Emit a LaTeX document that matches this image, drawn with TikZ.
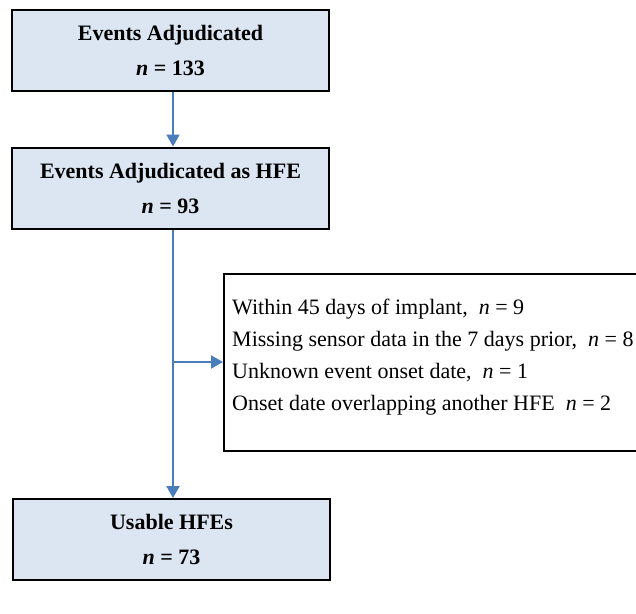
\documentclass[tikz,border=0pt]{standalone}
\usepackage{fontspec}
\setmainfont{Liberation Serif}
\usetikzlibrary{arrows.meta}
\definecolor{boxfill}{HTML}{DCE6F2}
\definecolor{flowblue}{HTML}{4A7EBB}
\tikzset{
  x=1pt, y=1pt,
  stagebox/.style={draw=black, line width=2pt, fill=boxfill, minimum width=317pt,
    minimum height=81pt, inner sep=0pt, align=center,
    font=\fontsize{22}{35}\selectfont\bfseries},
  exclbox/.style={draw=black, line width=2pt, fill=white, inner sep=0pt},
  flow/.style={draw=flowblue, line width=2pt,
    -{Triangle[width=13pt,length=12pt]}},
}
\begin{document}
\begin{tikzpicture}
\useasboundingbox (0,0) rectangle (636,-613);
\node[stagebox] (adj) at (170.5,-50.5) {Events Adjudicated\\\textit{n} = 133};
\node[stagebox] (hfe) at (170.5,-188) {Events Adjudicated as HFE\\\textit{n} = 93};
\node[stagebox] (use) at (171.5,-539.5) {Usable HFEs\\\textit{n} = 73};
\node[exclbox, minimum width=417pt, minimum height=177pt, anchor=north west] (excl) at (223,-273) {};
\node[anchor=west, align=left, inner sep=0pt, font=\fontsize{22}{32}\selectfont] (excltext) at (232,-357)
  {Within 45 days of implant,\ \ \textit{n} = 9\\
   Missing sensor data in the 7 days prior,\ \ \textit{n} = 8\\
   Unknown event onset date,\ \ \textit{n} = 1\\
   Onset date overlapping another HFE\ \ \textit{n} = 2};
\coordinate (branch) at (173,-362);
\draw[flow] (adj.south -| branch) -- (hfe.north -| branch);
\draw[flow] (hfe.south -| branch) -- (use.north -| branch);
\draw[flow] (branch) -- (excl.west |- branch);
\end{tikzpicture}
\end{document}
